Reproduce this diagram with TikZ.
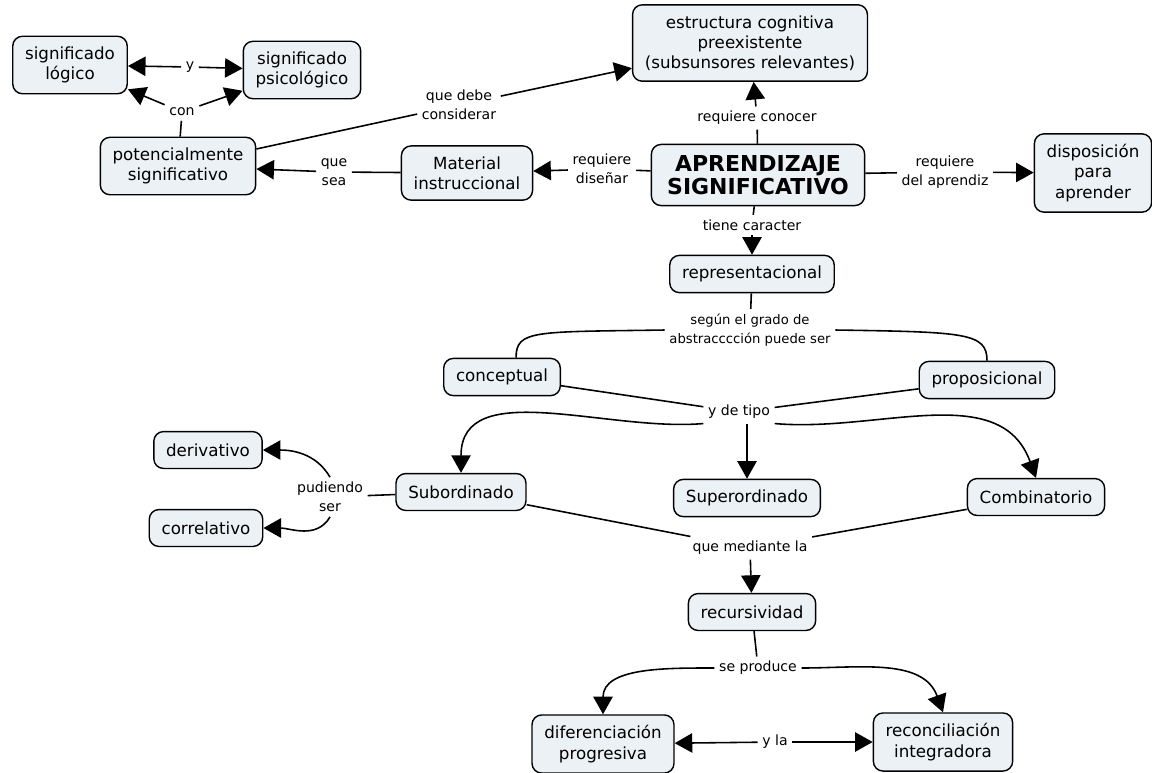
\documentclass[tikz,border=0pt]{standalone}
\usepackage{fontspec}
\setmainfont{DejaVu Sans}
\usetikzlibrary{arrows.meta}
\definecolor{boxfill}{HTML}{EBF1F5}
\tikzset{
  concept/.style={draw=black, fill=boxfill, rounded corners=5.5pt, line width=0.8pt, align=center,
    font=\fontsize{9.5}{11.5}\selectfont, inner xsep=7pt, inner ysep=6pt, minimum height=21pt},
  main/.style={concept, font=\bfseries\fontsize{12.5}{13.5}\selectfont, inner xsep=9pt},
  link/.style={align=center, font=\fontsize{8}{11}\selectfont, inner sep=2.5pt},
  ln/.style={draw=black, line width=0.9pt},
  arr/.style={ln, -{Triangle[length=10pt,width=11pt]}},
  darr/.style={ln, {Triangle[length=10pt,width=11pt]}-{Triangle[length=10pt,width=11pt]}},
}
\begin{document}
\begin{tikzpicture}[x=0.02cm,y=-0.02cm]
  \useasboundingbox (0,0) rectangle (1152,772);
  % conceptos
  \node[concept] (siglog) at (70,65) {significado\\lógico};
  \node[concept] (sigpsi) at (302,70) {significado\\psicológico};
  \node[concept] (potencial) at (178,166) {potencialmente\\significativo};
  \node[concept] (estructura) at (750,43) {estructura cognitiva\\preexistente\\(subsunsores relevantes)};
  \node[concept] (material) at (467,173) {Material\\instruccional};
  \node[main] (aprendizaje) at (758,175) {APRENDIZAJE\\SIGNIFICATIVO};
  \node[concept] (disposicion) at (1093,173) {disposición\\para\\aprender};
  \node[concept] (repres) at (752,274) {representacional};
  \node[concept] (conceptual) at (502,377) {conceptual};
  \node[concept] (proposicional) at (987,380) {proposicional};
  \node[concept] (derivativo) at (208,450) {derivativo};
  \node[concept] (correlativo) at (206,528) {correlativo};
  \node[concept] (subord) at (461,492) {Subordinado};
  \node[concept] (superord) at (747,498) {Superordinado};
  \node[concept] (combin) at (1036,497) {Combinatorio};
  \node[concept] (recurs) at (752,612) {recursividad};
  \node[concept] (diferen) at (603,744) {diferenciación\\progresiva};
  \node[concept] (reconcil) at (943,742) {reconciliación\\integradora};
  % enlaces
  \node[link] (y) at (190,67) {y};
  \node[link] (con) at (182,112) {con};
  \node[link] (quedebe) at (459,105) {que debe\\considerar};
  \node[link] (quesea) at (334,172) {que\\sea};
  \node[link] (reqdis) at (602,169) {requiere\\diseñar};
  \node[link] (reqcon) at (757,118) {requiere conocer};
  \node[link] (reqapr) at (945,172) {requiere\\del aprendiz};
  \node[link] (tiene) at (752,225) {tiene caracter};
  \node[link, font=\fontsize{7.5}{11}\selectfont] (segun) at (750,330) {según el grado de\\abstracccción puede ser};
  \node[link] (ydetipo) at (739,412) {y de tipo};
  \node[link] (pudiendo) at (330,497) {pudiendo\\ser};
  \node[link] (mediante) at (750,548) {que mediante la};
  \node[link] (produce) at (758,668) {se produce};
  \node[link] (yla) at (775,742) {y la};

  \draw[arr] (y) -- (siglog);
  \draw[arr] (y) -- (sigpsi);
  \draw[ln] (potencial) -- (con);
  \draw[arr] (con) -- (siglog);
  \draw[arr] (con) -- (sigpsi);
  \draw[ln] (potencial) -- (quedebe);
  \draw[arr] (quedebe) -- (estructura);
  \draw[ln] (material) -- (quesea);
  \draw[arr] (quesea) -- (potencial);
  \draw[ln] (aprendizaje) -- (reqdis);
  \draw[arr] (reqdis) -- (material);
  \draw[ln] (aprendizaje) -- (reqcon);
  \draw[arr] (reqcon) -- (estructura);
  \draw[ln] (aprendizaje) -- (reqapr);
  \draw[arr] (reqapr) -- (disposicion);
  \draw[ln] (aprendizaje) -- (tiene);
  \draw[arr] (tiene) -- (repres);
  \draw[ln] (repres) -- (segun);
  \draw[ln] (segun.west) .. controls +(-130,2) and +(0,-28) .. ([xshift=8]conceptual.north);
  \draw[ln] (segun.east) .. controls +(130,2) and +(0,-28) .. (proposicional.north);
  \draw[ln] (conceptual) -- (ydetipo);
  \draw[ln] (proposicional) -- (ydetipo);
  \draw[arr] (ydetipo.south west) to[out=185,in=90] (subord.north);
  \draw[arr] (ydetipo.south -| superord.north) -- (superord);
  \draw[arr] (ydetipo.south east) to[out=-5,in=110] (combin.north);
  \draw[ln] (subord) -- (pudiendo);
  \draw[arr] (pudiendo.north) to[out=120,in=0] (derivativo.east);
  \draw[arr] (pudiendo.south) to[out=240,in=0] (correlativo.east);
  \draw[ln] (subord) -- (mediante);
  \draw[ln] (combin) -- (mediante);
  \draw[arr] (mediante) -- (recurs);
  \draw[ln] (recurs) -- (produce);
  \draw[arr] (produce.west) to[out=180,in=90] (diferen.north);
  \draw[arr] (produce.east) to[out=0,in=110] (reconcil.north);
  \draw[arr] (yla) -- (diferen);
  \draw[arr] (yla) -- (reconcil);
\end{tikzpicture}
\end{document}
